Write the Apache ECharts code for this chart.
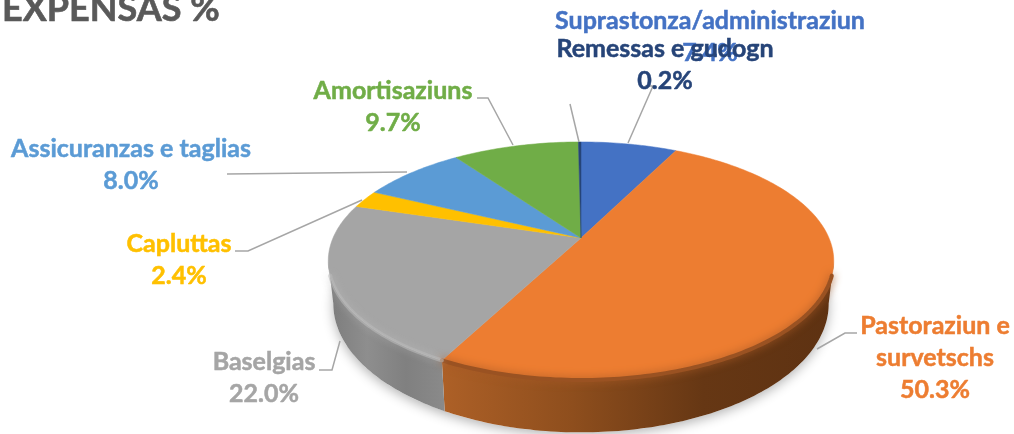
<!DOCTYPE html>
<html>
<head>
<meta charset="utf-8">
<style>
html, body { margin: 0; padding: 0; background: #fff; overflow: hidden; }
#chart { width: 1014px; height: 434px; }
</style>
<script src="https://cdn.jsdelivr.net/npm/echarts@6/dist/echarts.min.js"></script>
</head>
<body>
<div id="chart"></div>
<script>
const names = ['Suprastonza/administraziun', 'Pastoraziun e\nsurvetschs', 'Baselgias', 'Capluttas', 'Assicuranzas e taglias', 'Amortisaziuns', 'Remessas e gudogn'];
const values = [7.4, 50.3, 22.0, 2.4, 8.0, 9.7, 0.2];
const colors = ['#4472c4', '#ed7d31', '#a5a5a5', '#ffc000', '#5b9bd5', '#70ad47', '#264478'];
// darker tones for the pie's wall, left to right
const sideColors = [
    ['#2f4f88', '#2f4f88'],
    ['#ad6027', '#8e4e1d', '#663714', '#5e3212'],
    ['#7c7c7c', '#8e8e8e', '#808080', '#8a8a8a'],
    ['#b08500', '#b08500'],
    ['#3f6b94', '#3f6b94'],
    ['#4e7831', '#4e7831'],
    ['#1a2f54', '#1a2f54']
];
// label centre [x, y]
const labelPos = [[710, 37], [935, 358], [264, 378], [179, 260], [131, 165], [393, 107], [665, 65]];
// leader lines from label to slice
const leaders = [
    [[645, 86], [653, 86], [628, 143]],
    [[857, 333], [845, 333], [817, 349]],
    [[319, 370], [332, 370], [340, 341]],
    [[235, 251], [248, 251], [362, 200]],
    [[227, 174], [407, 172]],
    [[477, 98], [488, 98], [513, 145]],
    [[570, 104], [579, 142]]
];

const cx = 581, cy = 238;
const radiusX = 248, radiusY = 114.6, tilt = 0.193;
const wallDrop = 41, wallX = 0.98, wallY = 1.08;
const frontFrom = 101, frontTo = 259;
const rimInset = 7;

const total = values.reduce((a, b) => a + b, 0);
const starts = [];
values.reduce((sum, v, i) => { starts[i] = sum; return sum + v; }, 0);

// degrees clockwise from the top -> pixel, tilted disc
function project(deg, lower) {
    const a = deg * Math.PI / 180;
    const u = Math.sin(a), v = -Math.cos(a);
    const w = 1 - tilt * v;
    if (lower) {
        return [cx + radiusX * wallX * u / w, cy + wallDrop + radiusY * wallY * v / w];
    }
    return [cx + radiusX * u / w, cy + radiusY * v / w];
}
function arc(from, to, lower) {
    const pts = [];
    const n = Math.max(2, Math.ceil(Math.abs(to - from)));
    for (let i = 0; i <= n; i++) pts.push(project(from + (to - from) * i / n, lower));
    return pts;
}
function sliceRange(i) {
    return [starts[i] / total * 360, (starts[i] + values[i]) / total * 360];
}
function frontRange(i) {
    const r = sliceRange(i);
    return [Math.max(r[0], frontFrom), Math.min(r[1], frontTo)];
}
function wallFill(i, pts) {
    const xs = pts.map(p => p[0]);
    const list = sideColors[i];
    const stops = list.map((c, k) => ({ offset: k / (list.length - 1), color: c }));
    return new echarts.graphic.LinearGradient(Math.min(...xs), 0, Math.max(...xs), 0, stops, true);
}

const seriesData = values.map((v, i) => ({ name: names[i], value: v }));

function renderShadow(params) {
    if (params.dataIndex !== 0) return null;
    return {
        type: 'polygon',
        shape: { points: arc(0, 360, true) },
        style: { fill: '#fff', shadowBlur: 12, shadowColor: 'rgba(0,0,0,0.3)', shadowOffsetY: 3 }
    };
}
function renderWall(params) {
    const i = params.dataIndex;
    const r = frontRange(i);
    if (r[1] <= r[0]) return null;
    const pts = arc(r[0], r[1], false).concat(arc(r[1], r[0], true));
    return { type: 'polygon', shape: { points: pts }, style: { fill: wallFill(i, pts) } };
}
function renderTop(params) {
    const i = params.dataIndex;
    const r = sliceRange(i);
    const pts = [[cx, cy]].concat(arc(r[0], r[1], false));
    return { type: 'polygon', shape: { points: pts }, style: { fill: colors[i], stroke: colors[i], lineWidth: 0.5 } };
}
// soft bevel along the front edge
function renderRim(params) {
    const i = params.dataIndex;
    const r = frontRange(i);
    if (r[1] <= r[0]) return null;
    const light = i === 2;
    const from = Math.max(r[0], frontFrom + rimInset);
    const to = Math.min(r[1], frontTo - rimInset);
    return {
        type: 'polyline',
        shape: { points: arc(from, to, false) },
        style: {
            fill: 'none',
            stroke: light ? 'rgba(185,185,185,0.6)' : '#9a5222',
            lineWidth: light ? 4 : 4,
            lineCap: 'round',
            shadowBlur: 8,
            shadowColor: light ? 'rgba(195,195,195,0.8)' : '#a85a26'
        }
    };
}
function renderLabel(params) {
    const i = params.dataIndex;
    return {
        type: 'group',
        children: [
            {
                type: 'polyline',
                shape: { points: leaders[i] },
                style: { fill: 'none', stroke: '#a6a6a6', lineWidth: 1.5 }
            },
            {
                type: 'text',
                style: {
                    text: names[i] + '\n' + values[i].toFixed(1) + '%',
                    x: labelPos[i][0],
                    y: labelPos[i][1],
                    fill: colors[i],
                    stroke: colors[i],
                    lineWidth: 0.5,
                    font: 'bold 25px Lato',
                    lineHeight: 32,
                    align: 'center',
                    verticalAlign: 'middle'
                }
            }
        ]
    };
}

function layer(render, z) {
    return { type: 'custom', coordinateSystem: 'none', renderItem: render, data: seriesData, z: z, silent: true, animation: false };
}

const chart = echarts.init(document.getElementById('chart'));
chart.setOption({
    backgroundColor: '#fff',
    animation: false,
    title: {
        text: 'EXPENSAS %',
        left: -3,
        top: -14,
        textStyle: { color: '#595959', fontFamily: 'Lato', fontWeight: 'bold', fontSize: 36, textBorderColor: '#595959', textBorderWidth: 0.6 }
    },
    series: [
        layer(renderShadow, 1),
        layer(renderWall, 2),
        layer(renderTop, 3),
        layer(renderRim, 4),
        layer(renderLabel, 5)
    ]
});
</script>
</body>
</html>
